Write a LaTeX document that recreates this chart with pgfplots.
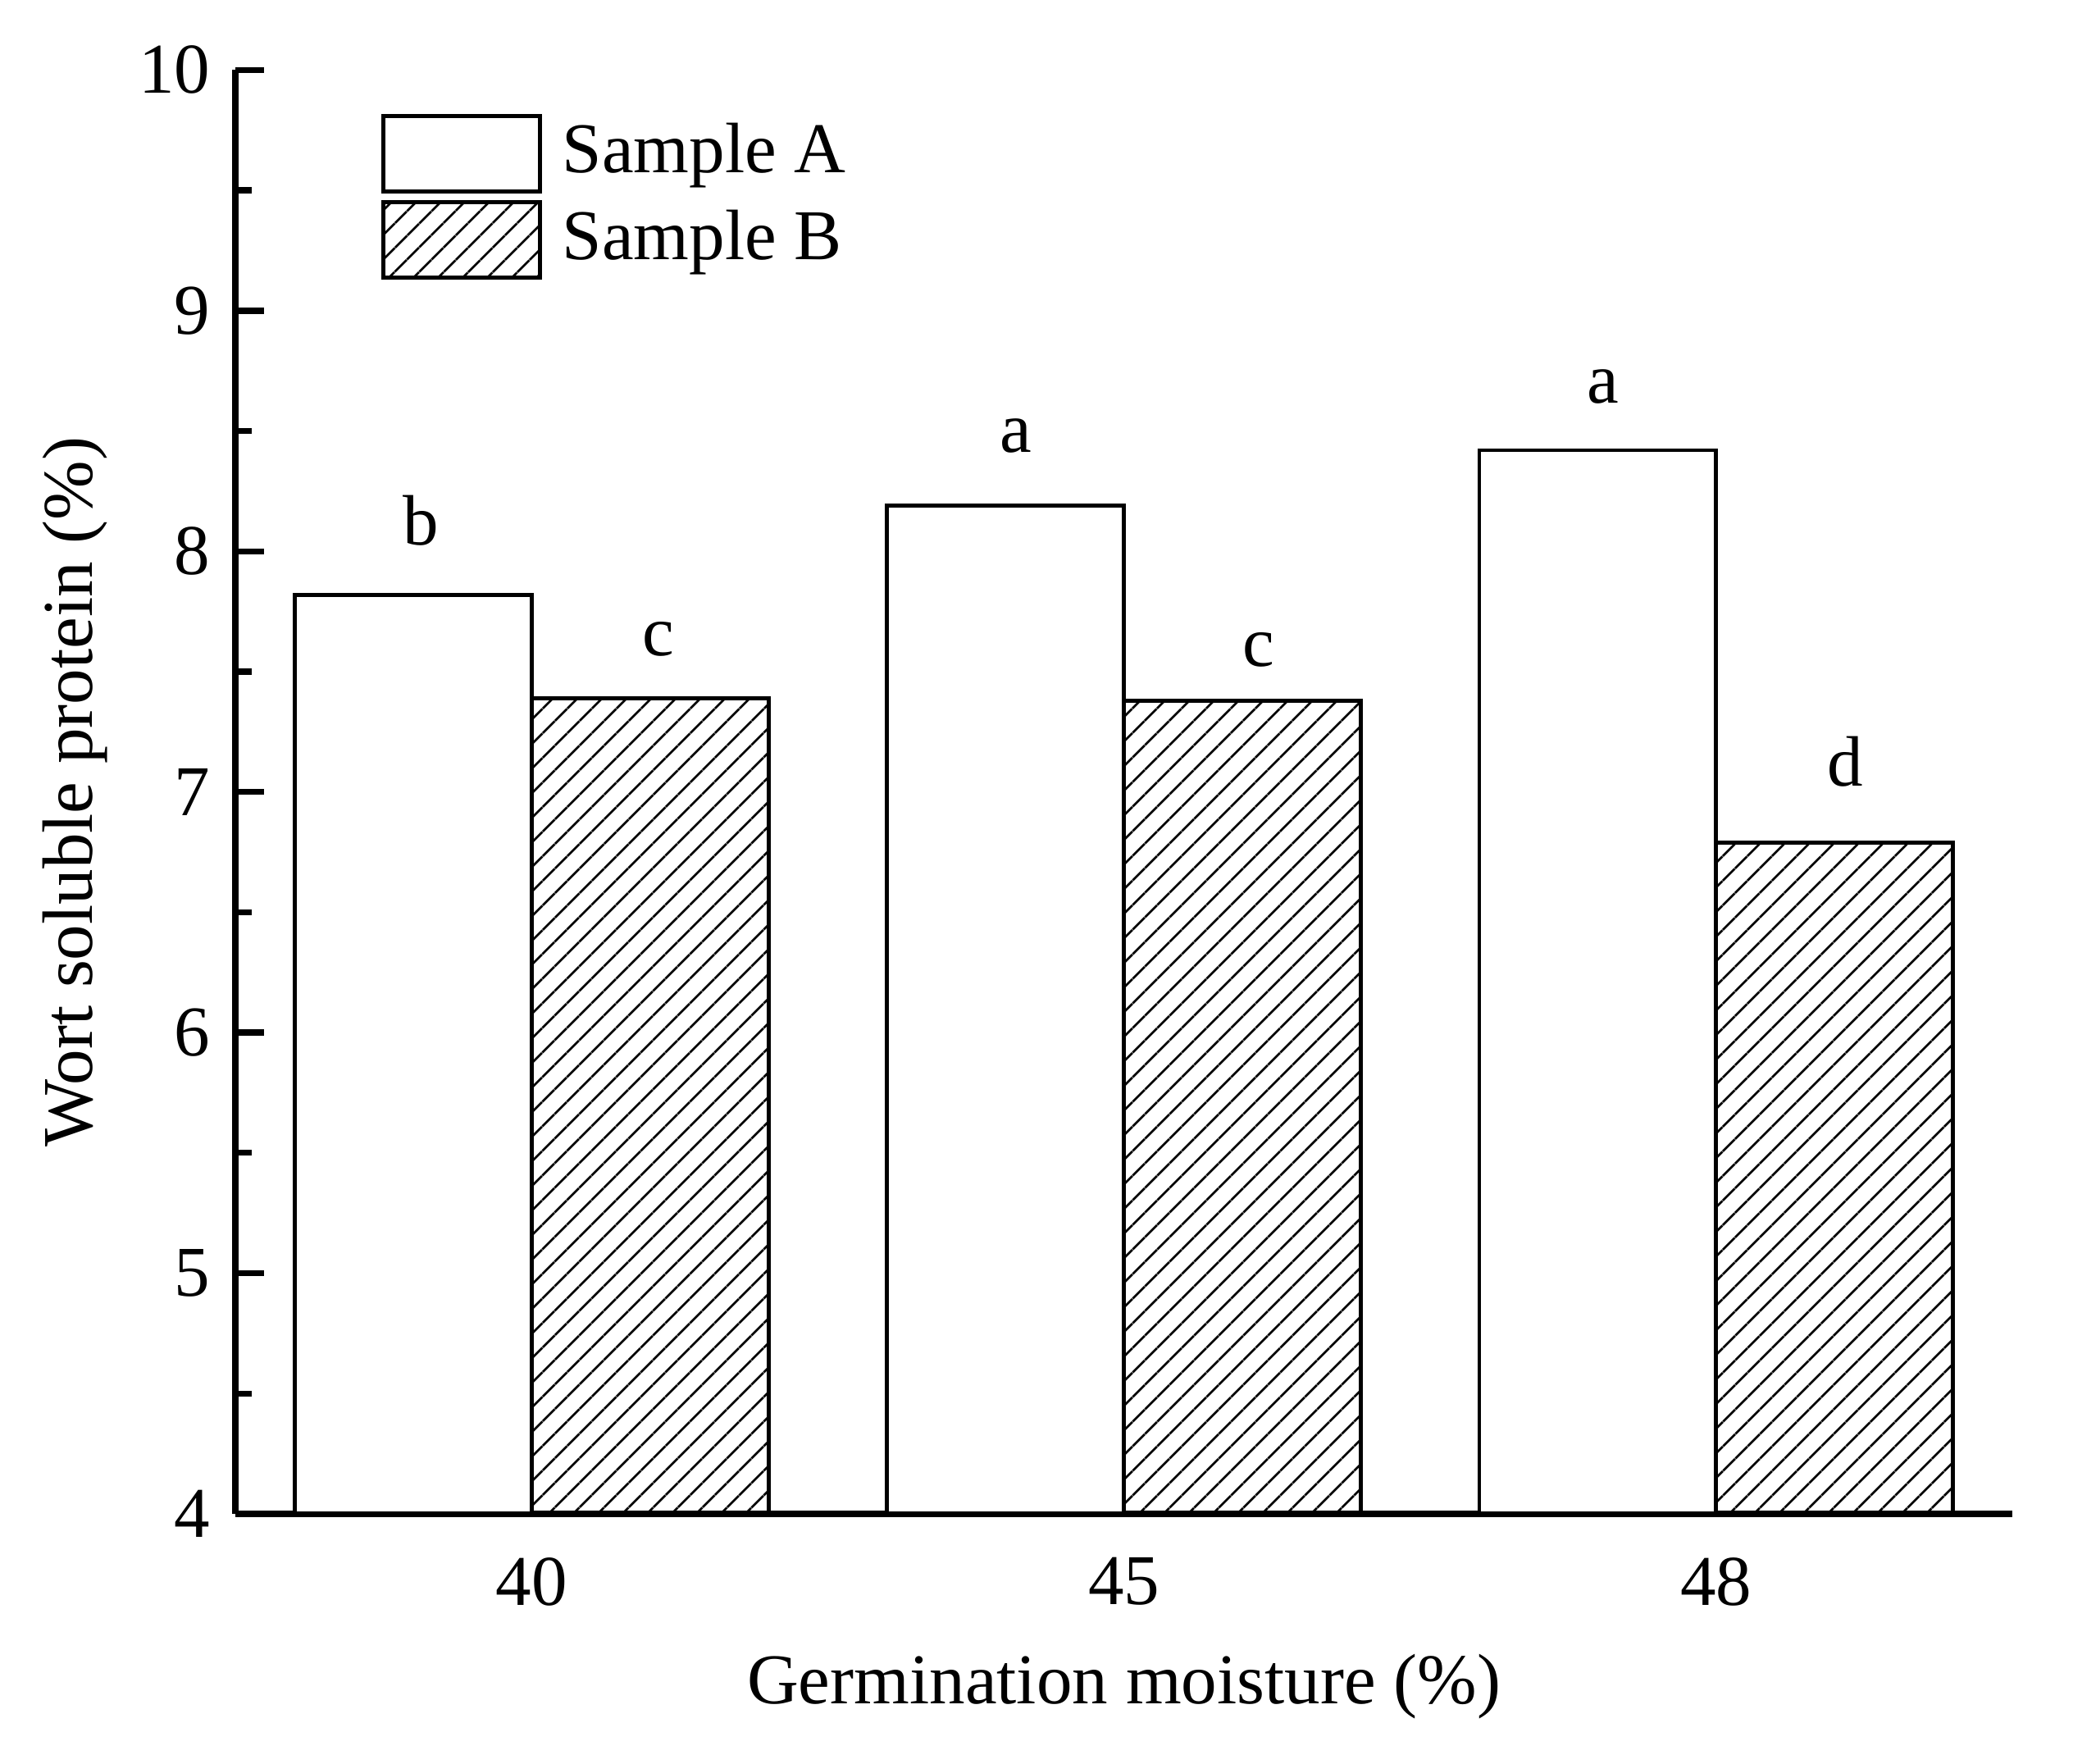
\documentclass[border=0pt]{standalone}
\usepackage{fontspec}
\setmainfont{Liberation Serif}
\usepackage{pgfplots}
\usepackage{pgfplotstable}
\pgfplotsset{compat=1.18}
\usetikzlibrary{patterns.meta}
\pgfplotstableread{
x y lab dx dy
0 7.82 b 1.3 8.64
1 8.19 a 1.8 9.26
2 8.42 a 0.9 8.24
}\tabA
\pgfplotstableread{
x y lab dx dy
0 7.39 c 1.5 7.3
1 7.38 c 2.8 5.9
2 6.79 d 1.9 9.8
}\tabB
\begin{document}
\fontsize{12.4}{15}\selectfont
\begin{tikzpicture}[font=\fontsize{12.4}{15}\selectfont]
\pgfplotsset{legbox/.style={legend image code/.code={\draw[##1, line width=0.7pt] (0pt,-6.55pt) rectangle (27.3pt,6.55pt);}}}
\begin{axis}[
 name=ax,
 scale only axis, width=308.6pt, height=250.7pt,
 xmin=-0.5, xmax=2.5, ymin=4, ymax=10,
 axis x line=bottom, axis y line=left,
 axis line style={-, line width=1.05pt},
 xtick={0,1,2}, xticklabels={40,45,48},
 xtick style={draw=none},
 ytick={4,5,6,7,8,9,10}, minor ytick={4.5,5.5,6.5,7.5,8.5,9.5},
 tick align=inside,
 major tick length=5pt, minor tick length=2.85pt,
 ytick style={line width=1.05pt, black},
 /pgf/number format/assume math mode=true,
 yticklabel style={anchor=east, inner sep=0pt, xshift=-4.2pt},
 xticklabel style={anchor=north, inner sep=0pt, yshift=-2.4pt},
 xlabel={Germination moisture (\%)},
 ylabel={Wort soluble protein (\%)},
 xlabel style={at={(axis description cs:0.5,-0.1197)}, anchor=center},
 ylabel style={at={(axis description cs:-0.090,0.5)}, anchor=center},
 ybar=0pt, bar width=0.4,
 legend style={draw=none, fill=none, at={(rel axis cs:0,1)}, anchor=north west,
   xshift=25.1pt, yshift=-7.4pt, inner sep=0pt, row sep=1.2pt,
   nodes={inner sep=0pt}},
 legend cell align=left,
 /tikz/every odd column/.style={column sep=3.5pt},
 nodes near coords, point meta=explicit symbolic,
 visualization depends on={\thisrow{dx} \as \ldx},
 visualization depends on={\thisrow{dy} \as \ldy},
 every node near coord/.append style={anchor=base, xshift=\ldx pt, yshift=\ldy pt, inner sep=0pt, black},
]
\addplot[draw=black, fill=white, line width=0.7pt, legbox] table[x=x, y=y, meta=lab] {\tabA};
\addlegendentry{Sample A}
\addplot[draw=black, line width=0.7pt, pattern={Lines[angle=45, distance=3.07pt, line width=0.42pt]}, legbox] table[x=x, y=y, meta=lab] {\tabB};
\addlegendentry{Sample B}
\end{axis}
\pgfresetboundingbox
\path[use as bounding box] ([shift={(-40.87pt,-43.4pt)}]ax.south west) rectangle ([shift={(10.53pt,12.17pt)}]ax.north east);
\end{tikzpicture}
\end{document}
